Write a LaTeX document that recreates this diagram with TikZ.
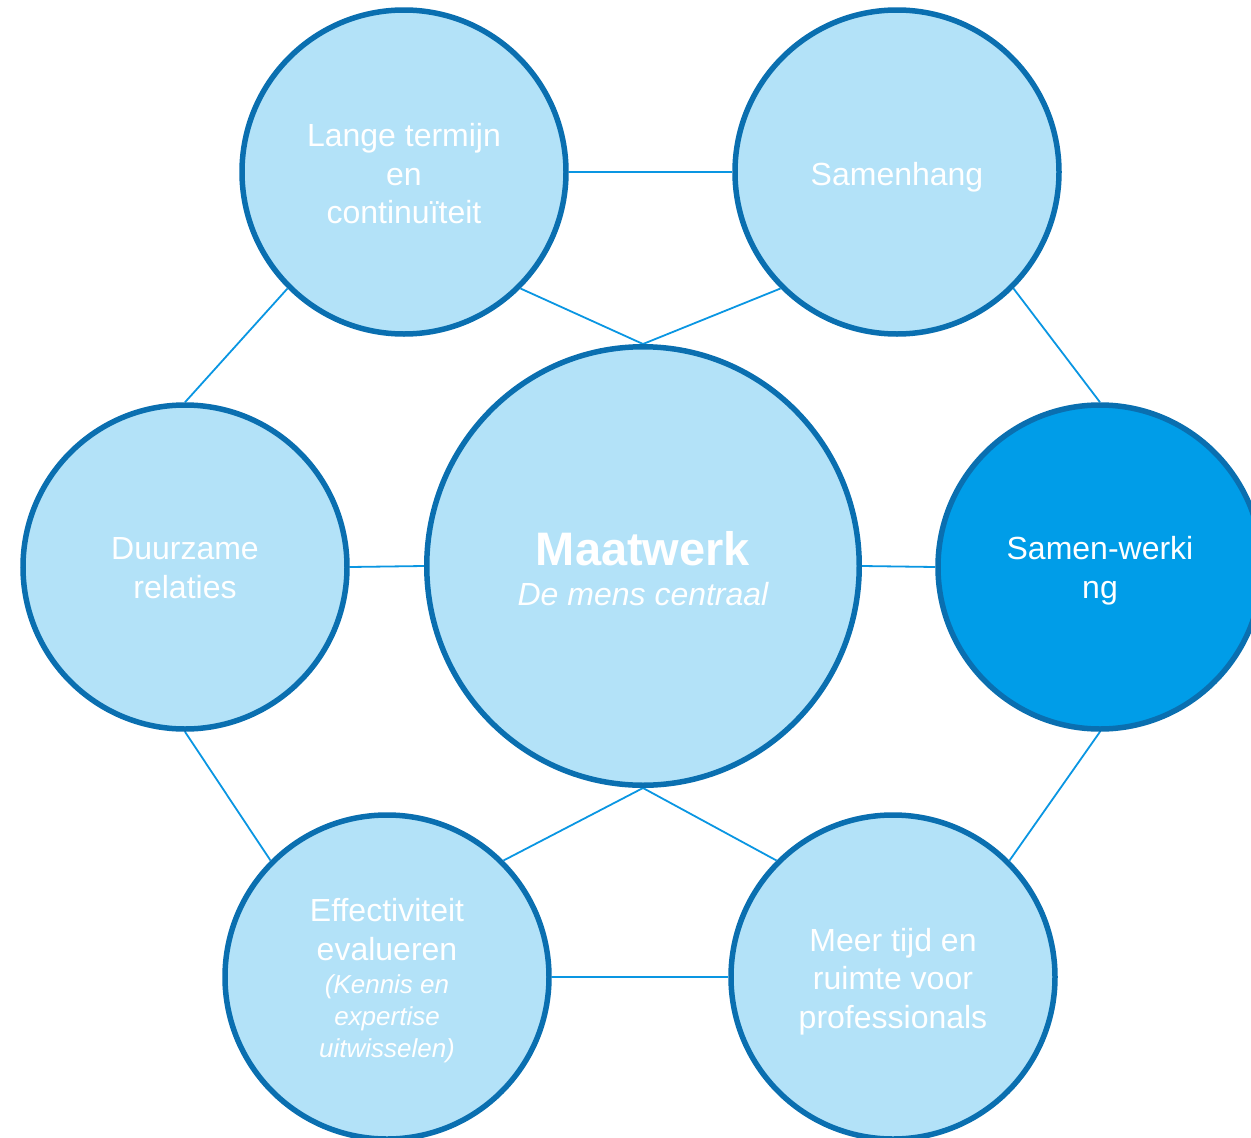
\documentclass[tikz,border=0pt]{standalone}
\usepackage{fontspec}
\setmainfont{Liberation Sans}
\usetikzlibrary{backgrounds,shapes.geometric}
\definecolor{cfill}{HTML}{B3E2F8}
\definecolor{cborder}{HTML}{0A6FB0}
\definecolor{cline}{HTML}{0A96E2}
\definecolor{chigh}{HTML}{009DE8}
\newcommand{\kleinit}{\fontsize{26}{31.5}\selectfont\itshape}
\tikzset{
  bubble/.style={circle, draw=cborder, fill=cfill, line width=5.5pt, minimum size=324pt, inner sep=0pt},
  bigbubble/.style={ellipse, draw=cborder, fill=cfill, line width=5.5pt, minimum width=432.5pt, minimum height=438.5pt, inner sep=0pt},
  txt/.style={text=white, align=center, inner sep=0pt, font=\fontsize{32}{38.5}\selectfont},
  link/.style={draw=cline, line width=1.8pt},
}
\begin{document}
\begin{tikzpicture}[x=1pt,y=-1pt]
\useasboundingbox (0,0) rectangle (1251,1138);
\clip (0,0) rectangle (1251,1138);
\node[bigbubble] (c) at (643,566) {};
\node[bubble] (tl) at (404,172) {};
\node[bubble] (tr) at (897,172) {};
\node[bubble] (l) at (185,567) {};
\node[bubble, fill=chigh] (r) at (1100,567) {};
\node[bubble] (bl) at (387,977) {};
\node[bubble] (br) at (893,977) {};
\node[txt, anchor=base, font=\fontsize{47}{50}\selectfont\bfseries] (ct1) at (643,565) {Maatwerk};
\node[txt, anchor=base, font=\fontsize{32}{38.5}\selectfont\itshape] (ct2) at (643,605) {De mens centraal};
\node[txt] (tlt) at (404,174) {Lange termijn\\en\\continuïteit};
\node[txt] (trt) at (897,177) {Samenhang};
\node[txt] (lt) at (185,568) {Duurzame\\relaties};
\node[txt] (rt) at (1100,570.5) {Samen-werki\\ng};
\node[txt] (blt) at (387,981) {Effectiviteit\\evalueren\\[-5pt]{\kleinit (Kennis en}\\[-6.5pt]{\kleinit expertise}\\[-6.5pt]{\kleinit uitwisselen)}};
\node[txt] (brt) at (893,981.5) {Meer tijd en\\ruimte voor\\professionals};
\begin{scope}[on background layer]
\draw[link] (tl.east) -- (tr.west);
\draw[link] (tl.-45) -- (c.north);
\draw[link] (tr.-135) -- (c.north);
\draw[link] (tl.-135) -- (l.north);
\draw[link] (tr.-45) -- (r.north);
\draw[link] (l.east) -- (c.west);
\draw[link] (c.east) -- (r.west);
\draw[link] (l.south) -- (bl.135);
\draw[link] (r.south) -- (br.45);
\draw[link] (c.south) -- (bl.45);
\draw[link] (c.south) -- (br.135);
\draw[link] (bl.east) -- (br.west);
\end{scope}
\end{tikzpicture}
\end{document}
